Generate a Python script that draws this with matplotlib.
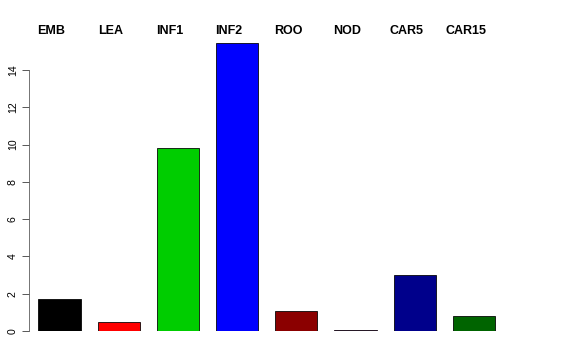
import matplotlib
matplotlib.use("Agg")
import matplotlib.pyplot as plt
import matplotlib.transforms as mtransforms

# --- Data ---
categories = ["EMB", "LEA", "INF1", "INF2", "ROO", "NOD", "CAR5", "CAR15"]
values = [1.72, 0.47, 9.80, 15.47, 1.07, 0.05, 3.0, 0.80]
bar_colors = ["#000000", "#FF0000", "#00CD00", "#0000FF", "#8B0000", "#8B008B", "#00008B", "#006400"]
y_ticks = [0, 2, 4, 6, 8, 10, 12, 14]

plt.rcParams["font.family"] = ["Liberation Sans", "DejaVu Sans"]

W, H = 576, 360
fig = plt.figure(figsize=(W / 72, H / 72), dpi=72)

# axes placed in pixel terms (R-style plot region)
left_px, right_px, bottom_px, top_px = 29, 508, 331, 40
ax = fig.add_axes([left_px / W, 1 - bottom_px / H,
                   (right_px - left_px) / W, (bottom_px - top_px) / H])

# R barplot style: width 1, space 0.4
xpos = [0.9 + 1.4 * i for i in range(len(values))]
ax.bar(xpos, values, width=1.0, color=bar_colors, edgecolor="black", linewidth=0.8)

ax.set_xlim(0.18, 0.18 + (right_px - left_px) / 42.3)
ax.set_ylim(0, (bottom_px - top_px) / 18.64)

for s in ["top", "right", "bottom"]:
    ax.spines[s].set_visible(False)
ax.spines["left"].set_bounds(0, 14)
ax.spines["left"].set_color("#555555")
ax.set_xticks([])
ax.set_yticks(y_ticks)
ax.set_yticklabels([str(t) for t in y_ticks], rotation=90, va="center", fontsize=10.5)
ax.tick_params(axis="y", length=7, width=0.8, pad=4, color="#333333")

# category labels along the top, slightly left of each bar
trans = mtransforms.blended_transform_factory(ax.transData, ax.transAxes)
label_y = 1 + (top_px - 31) / (bottom_px - top_px)
for x, name in zip(xpos, categories):
    ax.text(x - 0.19, label_y, name, transform=trans, fontsize=12.5,
            fontweight="bold", ha="center", va="center", clip_on=False)

fig.savefig("out.png", dpi=72)
